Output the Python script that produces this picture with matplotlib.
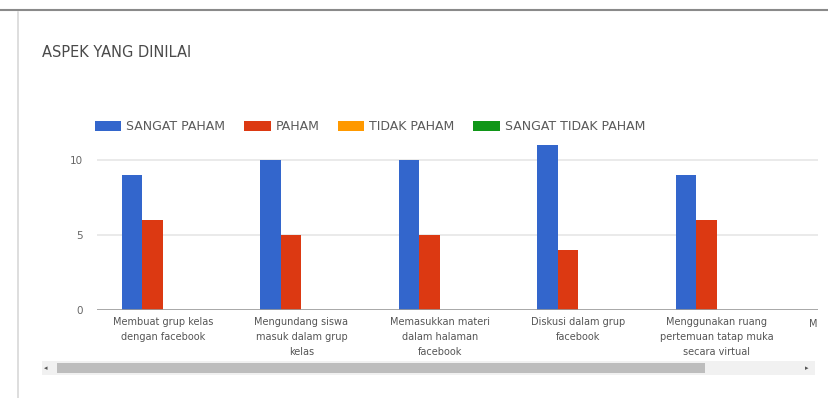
import matplotlib
matplotlib.use("Agg")
import matplotlib.pyplot as plt
from matplotlib.patches import Rectangle
import numpy as np

categories = [
    "Membuat grup kelas\ndengan facebook",
    "Mengundang siswa\nmasuk dalam grup\nkelas",
    "Memasukkan materi\ndalam halaman\nfacebook",
    "Diskusi dalam grup\nfacebook",
    "Menggunakan ruang\npertemuan tatap muka\nsecara virtual",
]
series_names = ["SANGAT PAHAM", "PAHAM", "TIDAK PAHAM", "SANGAT TIDAK PAHAM"]
sangat_paham = [9, 10, 10, 11, 9]
paham = [6, 5, 5, 4, 6]
tidak_paham = [0, 0, 0, 0, 0]
sangat_tidak_paham = [0, 0, 0, 0, 0]
y_ticks = [0, 5, 10]
title = "ASPEK YANG DINILAI"

colors = ["#3366cc", "#dc3912", "#ff9900", "#109618"]
W, H = 829, 398
fig = plt.figure(figsize=(W / 100, H / 100), dpi=100)
fig.patch.set_facecolor("white")

def fx(px):
    return px / W

def fy(py):
    return 1 - py / H

ax = fig.add_axes([fx(97), fy(310), fx(818) - fx(97), fy(140) - fy(310)])
x = np.arange(len(categories))
bw = 0.148
all_series = [sangat_paham, paham, tidak_paham, sangat_tidak_paham]
handles = []
for i, (vals, name, c) in enumerate(zip(all_series, series_names, colors)):
    h = ax.bar(x + (i - 1.5) * bw, vals, width=bw, color=c, label=name, zorder=3)
    handles.append(h)

ax.set_xlim(-0.4765, -0.4765 + 721 / 138.5)
ax.set_ylim(0, 170 / 15)
ax.set_yticks(y_ticks)
ax.set_yticklabels([str(v) for v in y_ticks], color="#666666", fontsize=7.5)
ax.set_xticks(x)
ax.set_xticklabels(categories, color="#555555", fontsize=7, linespacing=1.65)
ax.tick_params(axis="x", length=0, pad=5)
ax.tick_params(axis="y", length=0, pad=10)
for s in ax.spines.values():
    s.set_visible(False)
for yv in y_ticks[1:]:
    ax.axhline(yv, color="#e6e6e6", lw=1.2, zorder=1)
ax.axhline(0, color="#9a9a9a", lw=1.2, zorder=4)
ax.text(1.0, -0.08, "M", transform=ax.transAxes, color="#555555", fontsize=7,
        ha="right", va="center", clip_on=False)

fig.text(fx(42), fy(52.5), title, fontsize=10.5, color="#4a4a4a", va="center", ha="left")

fig.legend(handles=handles, labels=series_names, loc="center left",
           bbox_to_anchor=(fx(84), fy(127)), ncol=4, frameon=False,
           fontsize=9, handlelength=2.1, handleheight=0.8, handletextpad=0.4,
           columnspacing=1.5, labelcolor="#5a5a5a")

# scrollbar
fig.patches.append(Rectangle((fx(42), fy(375)), fx(815) - fx(42), fy(361) - fy(375),
                             transform=fig.transFigure, facecolor="#f1f1f1",
                             edgecolor="none", zorder=0))
fig.patches.append(Rectangle((fx(57), fy(373)), fx(705) - fx(57), fy(363) - fy(373),
                             transform=fig.transFigure, facecolor="#bdbdbd",
                             edgecolor="none", zorder=1))
fig.text(fx(46), fy(368), "◂", fontsize=5, color="#555555", ha="center", va="center")
fig.text(fx(807), fy(368), "▸", fontsize=5, color="#555555", ha="center", va="center")

# card borders
fig.add_artist(plt.Line2D([0, 1], [fy(10), fy(10)], transform=fig.transFigure,
                          color="#8a8a8a", lw=1.5))
fig.add_artist(plt.Line2D([fx(18), fx(18)], [fy(12), 0], transform=fig.transFigure,
                          color="#d8d8d8", lw=1.2))

fig.savefig("out.png", dpi=100, facecolor="white")
